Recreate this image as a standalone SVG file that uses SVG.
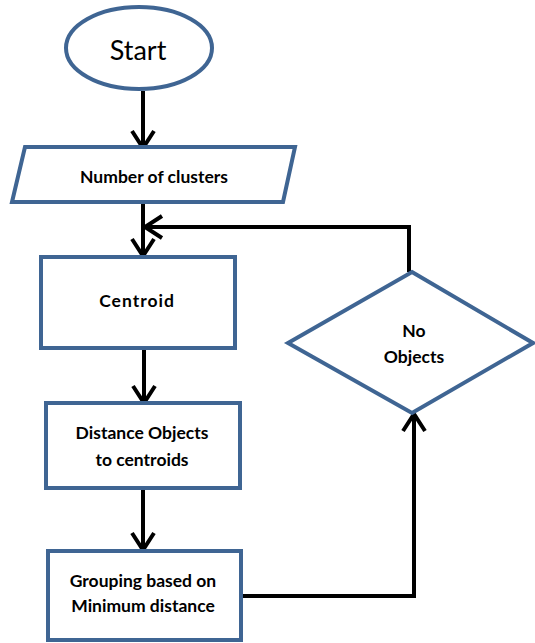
<svg xmlns="http://www.w3.org/2000/svg" width="535" height="643" viewBox="0 0 535 643">
<defs>
<marker id="arr" markerUnits="userSpaceOnUse" markerWidth="30" markerHeight="30" viewBox="-22 -15 26 30" refX="0" refY="0" orient="auto">
<path d="M-17,-11 L0,0 L-17,11" fill="none" stroke="#000" stroke-width="4" stroke-linejoin="miter"/>
</marker>
<style>
.n{fill:#fff;stroke:#3F6593;stroke-width:4}
.c{fill:none;stroke:#000;stroke-width:4}
.t{font-family:Lato,"Open Sans","Liberation Sans",sans-serif;font-weight:bold;font-size:17.5px;fill:#000;text-anchor:middle}
</style>
</defs>
<rect width="535" height="643" fill="#fff"/>
<g id="connectors">
<line class="c" x1="143" y1="91" x2="143" y2="148" marker-end="url(#arr)"/>
<line class="c" x1="143" y1="203" x2="143" y2="256" marker-end="url(#arr)"/>
<polyline class="c" points="409,272 409,227 145,227" marker-end="url(#arr)"/>
<line class="c" x1="144" y1="349" x2="144" y2="403" marker-end="url(#arr)"/>
<line class="c" x1="143" y1="489" x2="143" y2="550" marker-end="url(#arr)"/>
<polyline class="c" points="242,596 414,596 414,414" marker-end="url(#arr)"/>
</g>
<g id="start">
<ellipse class="n" cx="139" cy="48" rx="73" ry="41"/>
<text x="138" y="60" style="font-family:Lato,'Open Sans','Liberation Sans',sans-serif;font-size:27px;fill:#000;text-anchor:middle">Start</text>
</g>
<g id="clusters">
<polygon class="n" points="25,147 295,147 283,202 12,202"/>
<text class="t" x="154" y="183">Number of clusters</text>
</g>
<g id="centroid">
<rect class="n" x="41" y="257" width="194" height="91"/>
<text class="t" x="137" y="307" letter-spacing="1">Centroid</text>
</g>
<g id="distance">
<rect class="n" x="46" y="403" width="194" height="85"/>
<text class="t" x="142" y="439">Distance Objects</text>
<text class="t" x="142" y="466">to centroids</text>
</g>
<g id="grouping">
<rect class="n" x="48" y="551" width="193" height="89"/>
<text class="t" x="143" y="587">Grouping based on</text>
<text class="t" x="143" y="612">Minimum distance</text>
</g>
<g id="decision">
<polygon class="n" points="412,272 533,343 412,413 288,343"/>
<text class="t" x="414" y="337">No</text>
<text class="t" x="414" y="363">Objects</text>
</g>
</svg>
